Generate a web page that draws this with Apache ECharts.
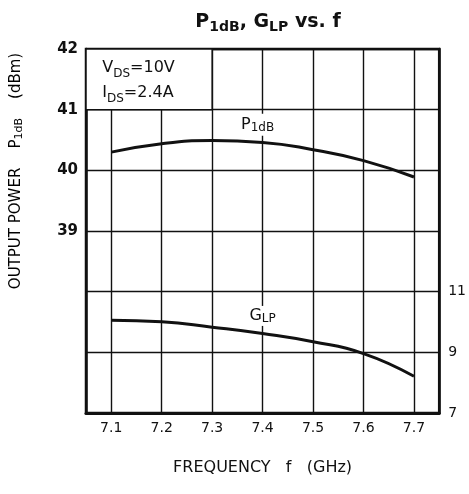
<!DOCTYPE html>
<html>
<head>
<meta charset="utf-8">
<script src="https://cdn.jsdelivr.net/npm/echarts@6/dist/echarts.min.js"></script>
<style>
  html, body { margin: 0; padding: 0; background: #fff; }
  #chart { width: 469px; height: 494px; }
</style>
</head>
<body>
<div id="chart"></div>
<script>
// values at each grid frequency
var freqs = [7.1, 7.2, 7.3, 7.4, 7.5, 7.6, 7.7]
var p1dB = [40.30, 40.44, 40.49, 40.46, 40.34, 40.16, 39.89]
var glp = [10.06, 10.01, 9.83, 9.62, 9.35, 8.96, 8.21]
var powerTicks = [39, 40, 41, 42]
var gainTicks = [7, 9, 11]

var font = 'DejaVu Sans, Verdana, sans-serif'
var black = '#111'

function pairs (ys) {
  return freqs.map(function (f, i) { return [f, ys[i]] })
}

var sub = { fontFamily: font, fontSize: 12, lineHeight: 12, verticalAlign: 'bottom', color: black }
var norm = { fontFamily: font, fontSize: 16, lineHeight: 18, verticalAlign: 'middle', color: black }

var chart = echarts.init(document.getElementById('chart'))

chart.setOption({
  animation: false,
  title: {
    text: '{b|P}{s|1dB}{b|, G}{s|LP}{b| vs. f}',
    left: 263,
    top: 5,
    textAlign: 'center',
    textStyle: {
      rich: {
        b: { fontFamily: font, fontSize: 19, fontWeight: 'bold', lineHeight: 24, verticalAlign: 'middle', color: black },
        s: { fontFamily: font, fontSize: 14, fontWeight: 'bold', lineHeight: 14, verticalAlign: 'bottom', color: black }
      }
    }
  },
  grid: {
    left: 86, right: 26, top: 49, bottom: 81,
    show: true, borderColor: black, borderWidth: 2.5
  },
  graphic: [{
    type: 'text',
    x: 16, y: 171,
    rotation: Math.PI / 2,
    style: {
      text: '{n|OUTPUT POWER    P}{s|1dB}{n|    (dBm)}',
      align: 'center',
      verticalAlign: 'middle',
      rich: {
        n: { fontFamily: font, fontSize: 15, lineHeight: 18, verticalAlign: 'middle', color: black },
        s: { fontFamily: font, fontSize: 11, lineHeight: 11, verticalAlign: 'bottom', color: black }
      }
    }
  }],
  xAxis: {
    type: 'value',
    min: 7.05,
    max: 7.75,
    name: 'FREQUENCY   f   (GHz)',
    nameLocation: 'middle',
    nameGap: 47,
    nameTextStyle: { fontFamily: font, fontSize: 16, color: black },
    axisLine: { show: true, lineStyle: { color: black, width: 3 } },
    axisTick: { show: false, customValues: freqs },
    axisLabel: {
      customValues: freqs,
      margin: 8,
      fontFamily: font, fontSize: 14, color: black,
      formatter: function (v) { return v.toFixed(1) }
    },
    splitLine: { show: true, lineStyle: { color: black, width: 1.4 } }
  },
  yAxis: [{
    type: 'value',
    min: 36, max: 42, interval: 1,
    axisLine: { show: true, lineStyle: { color: black, width: 2.5 } },
    axisTick: { show: false },
    axisLabel: {
      margin: 8,
      fontFamily: font, fontSize: 15, fontWeight: 'bold', color: black,
      formatter: function (v) { return powerTicks.indexOf(v) >= 0 ? String(v) : '' }
    },
    splitLine: { show: true, lineStyle: { color: black, width: 1.4 } }
  }, {
    type: 'value',
    position: 'right',
    min: 7, max: 19, interval: 2,
    axisLine: { show: true, lineStyle: { color: black, width: 2.5 } },
    axisTick: { show: false },
    axisLabel: {
      margin: 9,
      fontFamily: font, fontSize: 14, color: black,
      formatter: function (v) { return gainTicks.indexOf(v) >= 0 ? String(v) : '' }
    },
    splitLine: { show: false }
  }],
  series: [{
    name: 'P1dB',
    type: 'line',
    data: pairs(p1dB),
    smooth: 0.5,
    symbol: 'none',
    lineStyle: { color: black, width: 3 },
    markArea: {
      silent: true,
      itemStyle: { color: '#fff', borderColor: black, borderWidth: 1.5 },
      label: {
        show: true,
        position: [17, 7],
        formatter: '{n|V}{s|DS}{n|=10V}\n{n|I}{s|DS}{n|=2.4A}',
        rich: {
          n: { fontFamily: font, fontSize: 16, lineHeight: 25, verticalAlign: 'middle', color: black },
          s: { fontFamily: font, fontSize: 12, lineHeight: 17, verticalAlign: 'bottom', color: black }
        }
      },
      data: [[{ coord: [7.05, 42] }, { coord: [7.3, 41] }]]
    },
    markPoint: {
      silent: true,
      symbol: 'rect',
      symbolSize: 0,
      label: {
        show: true,
        position: 'inside',
        formatter: '{n|P}{s|1dB}',
        backgroundColor: '#fff',
        padding: [2, 3],
        rich: { n: norm, s: sub }
      },
      data: [{ coord: [7.39, 40.75] }]
    }
  }, {
    name: 'GLP',
    type: 'line',
    yAxisIndex: 1,
    data: pairs(glp),
    smooth: 0.5,
    symbol: 'none',
    lineStyle: { color: black, width: 3 },
    markPoint: {
      silent: true,
      symbol: 'rect',
      symbolSize: 0,
      label: {
        show: true,
        position: 'inside',
        formatter: '{n|G}{s|LP}',
        backgroundColor: '#fff',
        padding: [1, 2],
        rich: { n: norm, s: sub }
      },
      data: [{ coord: [7.4, 10.2] }]
    }
  }]
})
</script>
</body>
</html>
